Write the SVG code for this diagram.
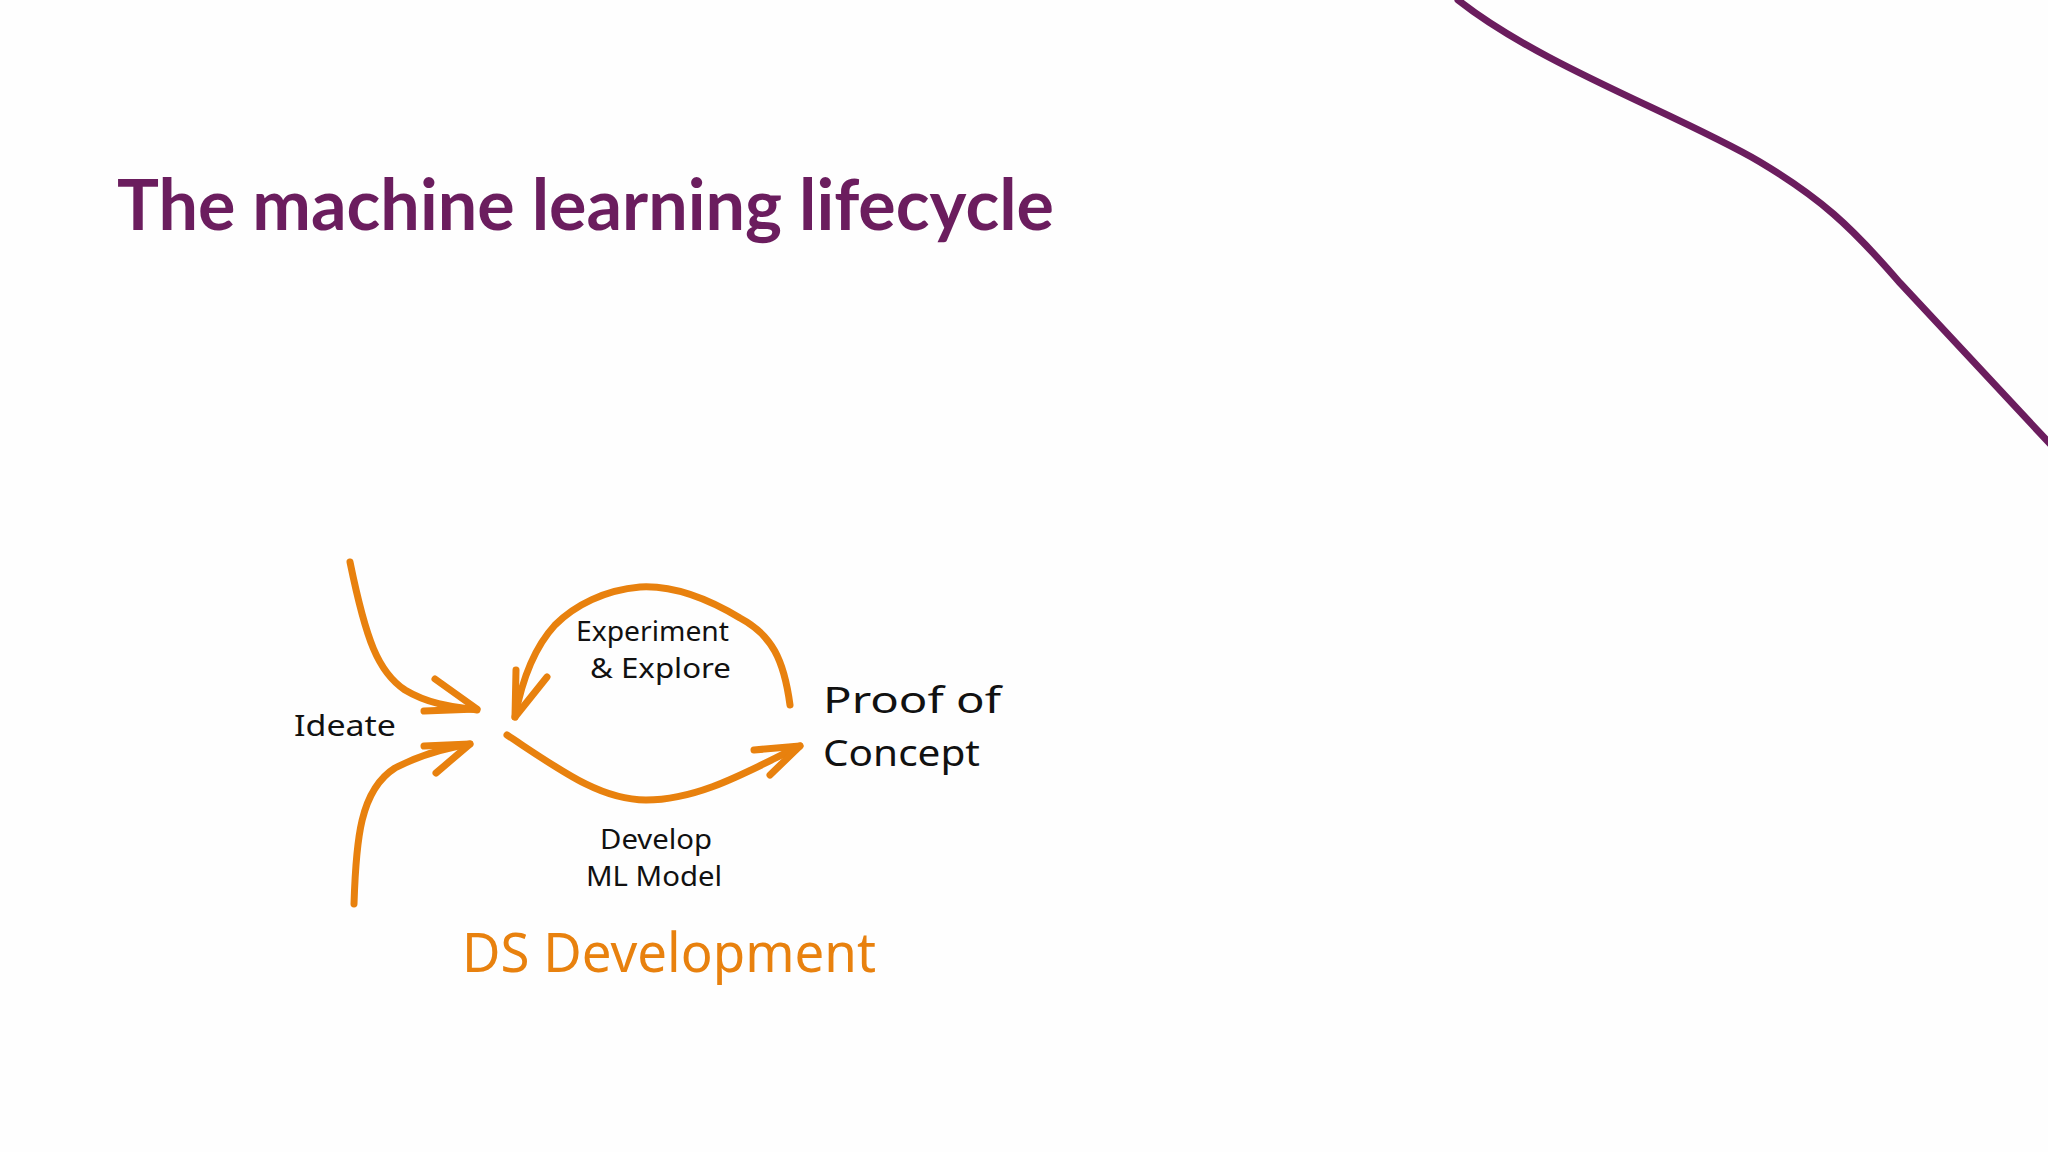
<svg xmlns="http://www.w3.org/2000/svg" width="2048" height="1152" viewBox="0 0 2048 1152">
  <style>
    .title { font-family: Lato, "Liberation Sans", sans-serif; font-weight: 700; font-size: 70px; fill: #6B1D5E; }
    .hand { font-family: "Noto Sans", "DejaVu Sans", sans-serif; fill: #111111; }
    .orange { fill: none; stroke: #E8810E; stroke-width: 7; stroke-linecap: round; stroke-linejoin: round; }
    .deco { fill: none; stroke: #6B1D5E; stroke-width: 7; stroke-linecap: round; }
    .big { font-family: "Noto Sans", "DejaVu Sans", sans-serif; fill: #E8810E; font-size: 54px; }
  </style>
  <rect width="2048" height="1152" fill="#FEFEFE"/>

  <path class="deco" d="M1458,0 C1540,65 1680,115 1760,162 C1820,198 1850,225 1900,283 L2052,446"/>

  <text class="title" x="117" y="230" textLength="937" lengthAdjust="spacingAndGlyphs">The machine learning lifecycle</text>

  <g id="connectors">
    <path class="orange" d="M350,562 C366,640 378,672 405,690 C430,705 455,707 477,710"/>
    <path class="orange" d="M435,679 L477,709 L424,711"/>
    <path class="orange" d="M354,904 C356,840 360,790 395,768 C420,755 445,748 470,744"/>
    <path class="orange" d="M424,746 L470,744 L436,773"/>
    <path class="orange" d="M507,735 C560,770 600,800 646,800 C700,800 750,770 800,746"/>
    <path class="orange" d="M754,750 L800,746 L770,775"/>
    <path class="orange" d="M790,705 C784,660 772,635 740,618 C710,600 675,585 640,587 C605,590 575,605 555,625 C532,650 521,685 515,717"/>
    <path class="orange" d="M516,670 L515,717 L547,677"/>
  </g>

  <g id="ideate">
    <text class="hand" x="294" y="736" font-size="29" textLength="102" lengthAdjust="spacingAndGlyphs">Ideate</text>
  </g>
  <g id="experiment">
    <text class="hand" x="576" y="641" font-size="27" textLength="153" lengthAdjust="spacingAndGlyphs">Experiment</text>
    <text class="hand" x="590" y="678" font-size="27" textLength="141" lengthAdjust="spacingAndGlyphs">&amp; Explore</text>
  </g>
  <g id="poc">
    <text class="hand" x="823" y="713" font-size="37" textLength="178" lengthAdjust="spacingAndGlyphs">Proof of</text>
    <text class="hand" x="823" y="766" font-size="37" textLength="157" lengthAdjust="spacingAndGlyphs">Concept</text>
  </g>
  <g id="develop">
    <text class="hand" x="600" y="849" font-size="27" textLength="112" lengthAdjust="spacingAndGlyphs">Develop</text>
    <text class="hand" x="586" y="886" font-size="27" textLength="136" lengthAdjust="spacingAndGlyphs">ML Model</text>
  </g>
  <g id="ds-development">
    <text class="big" x="462" y="972" textLength="414" lengthAdjust="spacingAndGlyphs">DS Development</text>
  </g>
</svg>
